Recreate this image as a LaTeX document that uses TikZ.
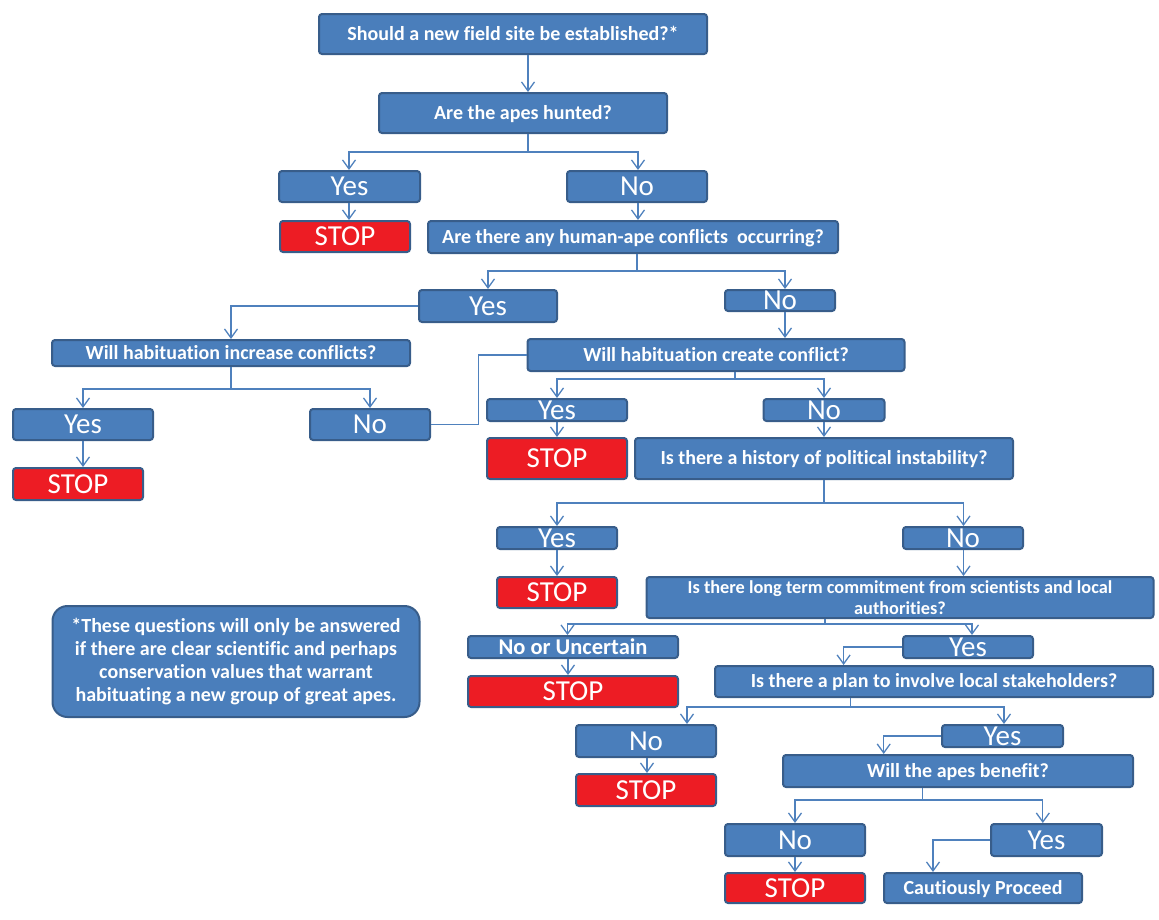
\documentclass[tikz,border=0pt]{standalone}
\usepackage{fontspec}
\setmainfont{Carlito}[Ligatures=NoCommon]
\usetikzlibrary{arrows.meta}
\definecolor{bfill}{HTML}{4A7EBB}
\definecolor{bbord}{HTML}{385D8A}
\definecolor{lblue}{HTML}{4F81BD}
\definecolor{stopred}{HTML}{ED1C24}
\tikzset{
  box/.style={draw=bbord, fill=bfill, text=white, line width=2pt, rounded corners=3pt, inner sep=0pt, align=center},
  qbox/.style={box, font=\bfseries\fontsize{20}{23}\selectfont, text height=12.9pt, text depth=0pt},
  ansbox/.style={box, font=\fontsize{29}{32}\selectfont, text height=18.7pt, text depth=0pt},
  stopbox/.style={box, fill=stopred, font=\fontsize{29}{32}\selectfont, text height=18.7pt, text depth=0pt},
  arr/.style={draw=lblue, line width=1.3pt, -{Straight Barb[length=9pt,width=13pt]}},
  lin/.style={draw=lblue, line width=1.3pt},
  wh/.style 2 args={minimum width=#1pt, minimum height=#2pt}
}
\begin{document}
\begin{tikzpicture}[x=1pt,y=-1pt]
\useasboundingbox (0,0) rectangle (1159,919);
% nodes
\node[qbox, wh={388}{40}] (q1) at (513,34) {Should a new field site be established?*};
\node[qbox, wh={288}{40}] (q2) at (523,113) {Are the apes hunted?};
\node[ansbox, wh={141}{31}] (y1) at (349.5,186.5) {Yes};
\node[ansbox, wh={140}{31}] (n1) at (637,186.5) {No};
\node[stopbox, wh={130}{31}] (s1) at (345,236.5) {STOP};
\node[qbox, wh={410}{32}] (q3) at (633,237) {Are there any human-ape conflicts\ \ occurring?};
\node[ansbox, wh={138}{32}] (y2) at (488,306) {Yes};
\node[ansbox, wh={110}{21}] (n2) at (780,300.5) {No};
\node[qbox, wh={358}{26}] (q4) at (231,353) {Will habituation increase conflicts?};
\node[ansbox, wh={140}{31}] (y3) at (83,424.5) {Yes};
\node[ansbox, wh={120}{31}] (n3) at (370,424.5) {No};
\node[stopbox, wh={130}{32}] (s3) at (78,484) {STOP};
\node[qbox, wh={377}{32}] (q5) at (716,355) {Will habituation create conflict?};
\node[ansbox, wh={140}{22}] (y4) at (557,410) {Yes};
\node[ansbox, wh={121}{22}] (n4) at (824,410) {No};
\node[stopbox, wh={140}{41}] (s4) at (557,458.5) {STOP};
\node[qbox, wh={378}{41}] (q6) at (824,458.5) {Is there a history of political instability?};
\node[ansbox, wh={120}{22}] (y5) at (557,538) {Yes};
\node[ansbox, wh={120}{22}] (n5) at (963,538) {No};
\node[stopbox, wh={120}{31}] (s5) at (557,592.5) {STOP};
\node[box, wh={507}{41}, font=\bfseries\fontsize{18.3}{21.6}\selectfont] (q7) at (900,597.5) {Is there long term commitment from scientists and local\\authorities?};
\node[qbox, wh={210}{22}, font=\bfseries\fontsize{22.5}{25}\selectfont, text height=14.5pt] (y6) at (573,647) {No or Uncertain};
\node[ansbox, wh={130}{22}] (n6) at (968,647) {Yes};
\node[stopbox, wh={210}{31}] (s6) at (573,691.5) {STOP};
\node[qbox, wh={438}{31}] (q8) at (934,681.5) {Is there a plan to involve local stakeholders?};
\node[ansbox, wh={140}{32}] (n7) at (646,741) {No};
\node[ansbox, wh={121}{22}] (y7) at (1002.5,736) {Yes};
\node[stopbox, wh={140}{32}] (s7) at (646,790) {STOP};
\node[qbox, wh={350}{32}] (q9) at (958,771) {Will the apes benefit?};
\node[ansbox, wh={140}{32}] (n8) at (795,840) {No};
\node[ansbox, wh={111}{32}] (y8) at (1046.5,840) {Yes};
\node[stopbox, wh={140}{30}] (s8) at (795,888) {STOP};
\node[qbox, wh={198}{30}] (cp) at (983,888) {Cautiously Proceed};
\node[box, wh={367}{111}, rounded corners=15pt, font=\bfseries\fontsize{20}{22.8}\selectfont] (note) at (236,661.5) {*These questions will only be answered\\if there are clear scientific and perhaps\\conservation values that warrant\\habituating a new group of great apes.};
% branch points
\coordinate (b2) at (528,152);
\coordinate (b3) at (637,271);
\coordinate (b4) at (231,389);
\coordinate (b5) at (735,379);
\coordinate (b6) at (824,503);
\coordinate (b7) at (825,624);
\coordinate (b8) at (850.6,707);
\coordinate (b9) at (922.6,800);
% connectors
\draw[arr] (q1.south -| 528,0) -- (q2.north -| 528,0);
\draw[arr] (q2.south -| b2) -- (b2) -| (y1.north -| 349,0);
\draw[arr] (b2) -| (n1.north -| 638,0);
\draw[arr] (y1.south -| 349,0) -- (s1.north -| 349,0);
\draw[arr] (n1.south -| 638,0) -- (q3.north -| 638,0);
\draw[arr] (q3.south -| b3) -- (b3) -| (y2.north);
\draw[arr] (b3) -| (n2.north -| 785,0);
\draw[arr] (y2.west) -| (q4.north);
\draw[arr] (n2.south -| 785,0) -- (q5.north -| 785,0);
\draw[arr] (q4.south -| b4) -- (b4) -| (y3.north);
\draw[arr] (b4) -| (n3.north);
\draw[arr] (y3.south) -- (y3.south |- s3.north);
\draw[lin] (n3.east) -| ([xshift=-48]q5.west) -- (q5.west);
\draw[arr] (q5.south -| b5) -- (b5) -| (y4.north);
\draw[arr] (b5) -| (n4.north);
\draw[arr] (y4.south) -- (s4.north);
\draw[arr] (n4.south) -- (n4.south |- q6.north);
\draw[arr] (q6.south -| b6) -- (b6) -| (y5.north);
\draw[arr] (b6) -| (n5.north -| 963.5,0);
\draw[arr] (y5.south) -- (s5.north);
\draw[arr] (n5.south -| 963.5,0) -- (q7.north -| 963.5,0);
\draw[arr] (q7.south -| b7) -- (b7) -| (y6.north -| 567.5,0);
\draw[arr] (b7) -| (n6.north -| 972,0);
\draw[arr] (y6.south -| 568,0) -- (s6.north -| 568,0);
\draw[arr] (n6.west) -| (q8.north -| 843.6,0);
\draw[arr] (q8.south -| b8) -- (b8) -| (n7.north -| 687,0);
\draw[arr] (b8) -| (y7.north -| 1004,0);
\draw[arr] (n7.south -| 647,0) -- (s7.north -| 647,0);
\draw[arr] (y7.west) -| (q9.north -| 883.7,0);
\draw[arr] (q9.south -| b9) -- (b9) -| (n8.north);
\draw[arr] (b9) -| (y8.north -| 1042.8,0);
\draw[arr] (n8.south) -- (s8.north);
\draw[arr] (y8.west) -| (cp.north -| 933,0);
\end{tikzpicture}
\end{document}
